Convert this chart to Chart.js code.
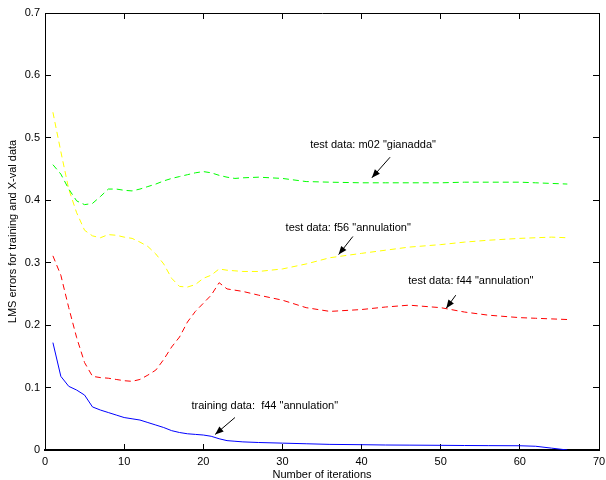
<!DOCTYPE html>
<html>
<head>
<meta charset="utf-8">
<script src="https://cdn.jsdelivr.net/npm/chart.js@4/dist/chart.umd.min.js"></script>
<style>
  html, body { margin: 0; padding: 0; background: #fff; }
  #wrap { width: 606px; height: 480px; }
</style>
</head>
<body>
<div id="wrap"><canvas id="lmsChart" width="606" height="480"></canvas></div>
<script>
const iterations = [1, 2, 3, 4, 5, 6, 7, 8, 9, 10, 11, 12, 13, 14, 15, 16, 17, 18, 19, 20,
    21, 22, 23, 24, 25, 27, 30, 33, 36, 40, 43, 46, 50, 53, 56, 60, 62, 64, 66];

// training data: f44 "annulation" (solid blue)
const trainingF44 = [0.172, 0.118, 0.102, 0.096, 0.088, 0.069, 0.064, 0.060, 0.056, 0.052,
    0.050, 0.048, 0.044, 0.040, 0.036, 0.031, 0.028, 0.026, 0.025, 0.024,
    0.022, 0.018, 0.015, 0.014, 0.013, 0.012, 0.011, 0.010, 0.009, 0.0085,
    0.008, 0.0078, 0.0075, 0.0072, 0.007, 0.0068, 0.006, 0.003, 0.0];

// test data: f44 "annulation" (dashed red)
const testF44 = [0.311, 0.280, 0.228, 0.180, 0.140, 0.118, 0.116, 0.115, 0.113, 0.111,
    0.110, 0.113, 0.120, 0.128, 0.145, 0.165, 0.181, 0.205, 0.222, 0.235,
    0.248, 0.268, 0.258, 0.256, 0.254, 0.248, 0.240, 0.228, 0.222, 0.225,
    0.229, 0.232, 0.228, 0.221, 0.216, 0.212, 0.211, 0.210, 0.209];

// test data: m02 "gianadda" (dashed green)
const testM02 = [0.457, 0.442, 0.418, 0.399, 0.393, 0.395, 0.406, 0.418, 0.418, 0.416,
    0.415, 0.418, 0.422, 0.426, 0.431, 0.435, 0.438, 0.441, 0.444, 0.446,
    0.444, 0.440, 0.437, 0.435, 0.436, 0.437, 0.435, 0.430, 0.429, 0.428,
    0.428, 0.428, 0.428, 0.429, 0.429, 0.429, 0.428, 0.427, 0.426];

// test data: f56 "annulation" (dashed yellow)
const testF56 = [0.541, 0.478, 0.418, 0.380, 0.352, 0.343, 0.340, 0.345, 0.344, 0.341,
    0.339, 0.333, 0.326, 0.314, 0.298, 0.275, 0.262, 0.261, 0.265, 0.275,
    0.280, 0.290, 0.288, 0.287, 0.286, 0.286, 0.290, 0.298, 0.308, 0.315,
    0.320, 0.325, 0.329, 0.333, 0.336, 0.339, 0.340, 0.341, 0.340];

const xTicks = [0, 10, 20, 30, 40, 50, 60, 70];
const yTicks = [0, 0.1, 0.2, 0.3, 0.4, 0.5, 0.6, 0.7];

const FONT = "Liberation Sans, Arial, Helvetica, sans-serif";

// text labels with arrows, in data coordinates
const notes = [
    { text: 'test data: m02 "gianadda"', tx: 33.5, ty: 0.489, from: [43.6, 0.469], to: [41.3, 0.436] },
    { text: 'test data: f56 "annulation"', tx: 30.4, ty: 0.355, from: [38.9, 0.342], to: [37.1, 0.313] },
    { text: 'test data: f44 "annulation"', tx: 45.9, ty: 0.271, from: [51.9, 0.248], to: [50.7, 0.227] },
    { text: 'training data:  f44 "annulation"', tx: 18.5, ty: 0.071, from: [24.0, 0.052], to: [21.5, 0.025] }
];

function toPoints(ys) {
    return iterations.map((x, i) => ({ x: x, y: ys[i] }));
}

// arrow labels
const notesPlugin = {
    id: "arrowNotes",
    afterDraw(chart) {
        const ctx = chart.ctx;
        const sx = chart.scales.x, sy = chart.scales.y;
        ctx.save();
        ctx.setLineDash([]);
        ctx.fillStyle = "#000";
        ctx.strokeStyle = "#000";
        ctx.lineWidth = 1;
        ctx.font = "11px " + FONT;
        ctx.textBaseline = "middle";
        ctx.textAlign = "left";
        notes.forEach(n => {
            ctx.fillText(n.text, sx.getPixelForValue(n.tx), sy.getPixelForValue(n.ty));
            const x1 = sx.getPixelForValue(n.from[0]), y1 = sy.getPixelForValue(n.from[1]);
            const x2 = sx.getPixelForValue(n.to[0]), y2 = sy.getPixelForValue(n.to[1]);
            ctx.beginPath();
            ctx.moveTo(x1, y1);
            ctx.lineTo(x2, y2);
            ctx.stroke();
            const ang = Math.atan2(y2 - y1, x2 - x1);
            const len = 9, w = 0.38;
            ctx.beginPath();
            ctx.moveTo(x2, y2);
            ctx.lineTo(x2 - len * Math.cos(ang - w), y2 - len * Math.sin(ang - w));
            ctx.lineTo(x2 - len * Math.cos(ang + w), y2 - len * Math.sin(ang + w));
            ctx.closePath();
            ctx.fill();
        });
        ctx.restore();
    }
};

function lineSet(label, ys, color, dashed) {
    return {
        label: label,
        data: toPoints(ys),
        borderColor: color,
        borderWidth: 1,
        borderDash: dashed ? [6, 4] : [],
        pointRadius: 0,
        tension: 0,
        fill: false,
        xAxisID: "x",
        yAxisID: "y"
    };
}

// inward tick marks (negative tick length) and a black frame on every side
const inwardGrid = { display: true, drawOnChartArea: false, drawTicks: true, tickLength: -6, color: "#000", lineWidth: 1 };
const tickFont = { family: FONT, size: 11 };

new Chart(document.getElementById("lmsChart").getContext("2d"), {
    type: "line",
    data: {
        datasets: [
            lineSet('training data: f44 "annulation"', trainingF44, "#0000ff", false),
            lineSet('test data: f44 "annulation"', testF44, "#ff0000", true),
            lineSet('test data: m02 "gianadda"', testM02, "#00ff00", true),
            lineSet('test data: f56 "annulation"', testF56, "#ffff00", true)
        ]
    },
    options: {
        responsive: false,
        animation: false,
        layout: { padding: { top: 13, right: 7, left: 0, bottom: 0 } },
        plugins: { legend: { display: false }, tooltip: { enabled: false } },
        scales: {
            x: {
                type: "linear",
                position: "bottom",
                min: 0, max: 70,
                grid: inwardGrid,
                border: { display: true, color: "#000", width: 2 },
                afterBuildTicks: s => { s.ticks = xTicks.map(v => ({ value: v })); },
                afterFit: s => { s.height = 30; s.paddingRight = 0; s.paddingLeft = 0; },
                ticks: { color: "#000", font: tickFont, padding: 11, maxRotation: 0 },
                title: { display: true, text: "Number of iterations", color: "#000",
                    font: tickFont, padding: { top: 0, bottom: -2 } }
            },
            xTop: {
                type: "linear",
                axis: "x",
                position: "top",
                min: 0, max: 70,
                grid: inwardGrid,
                border: { display: true, color: "#000", width: 1 },
                afterBuildTicks: s => { s.ticks = xTicks.map(v => ({ value: v })); },
                afterFit: s => { s.height = 0; s.paddingRight = 0; s.paddingLeft = 0; },
                ticks: { display: false }
            },
            y: {
                type: "linear",
                position: "left",
                min: 0, max: 0.7,
                grid: inwardGrid,
                border: { display: true, color: "#000", width: 1 },
                afterBuildTicks: s => { s.ticks = yTicks.map(v => ({ value: v })); },
                afterFit: s => { s.width = 45; s.paddingTop = 0; s.paddingBottom = 0; },
                ticks: { color: "#000", font: tickFont, padding: 11,
                    callback: v => String(Math.round(v * 10) / 10) },
                title: { display: true, text: "LMS errors for training and X-val data", color: "#000",
                    font: tickFont, padding: { top: 6, bottom: 0 } }
            },
            yRight: {
                type: "linear",
                axis: "y",
                position: "right",
                min: 0, max: 0.7,
                grid: inwardGrid,
                border: { display: true, color: "#000", width: 1 },
                afterBuildTicks: s => { s.ticks = yTicks.map(v => ({ value: v })); },
                afterFit: s => { s.width = 0; s.paddingTop = 0; s.paddingBottom = 0; },
                ticks: { display: false }
            }
        }
    },
    plugins: [notesPlugin]
});
</script>
</body>
</html>
